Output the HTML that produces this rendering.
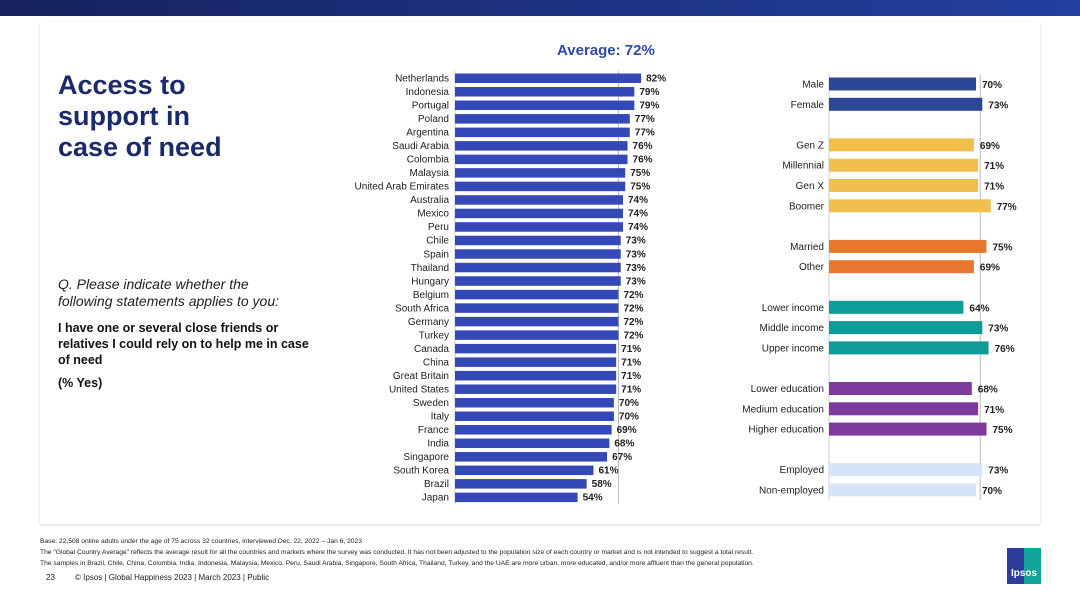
<!DOCTYPE html>
<html><head><meta charset="utf-8"><style>
body{margin:0;width:1080px;height:608px;background:#fff;font-family:"Liberation Sans",sans-serif;position:relative;overflow:hidden}
.banner{position:absolute;left:0;top:0;width:1080px;height:16px;background:linear-gradient(90deg,#16225e,#2340a0)}
.card{position:absolute;left:40px;top:22px;width:1000px;height:502px;background:#fff;box-shadow:0 1px 3px rgba(0,0,0,.15)}
.title{position:absolute;left:58px;top:70px;font-size:27px;font-weight:bold;color:#1b2a6b;line-height:31px}
.q{position:absolute;left:58px;top:276px;font-size:14px;font-style:italic;color:#222;line-height:17px}
.stmt{position:absolute;left:58px;top:320px;font-size:12.5px;font-weight:bold;color:#111;line-height:16px;width:260px}
.yes{position:absolute;left:58px;top:376px;font-size:12.5px;font-weight:bold;color:#111}
.avg{position:absolute;left:557px;top:42px;font-size:15px;font-weight:bold;color:#2e4aa6}
.foot{position:absolute;left:40px;font-size:6.7px;color:#222;white-space:nowrap}
.pg{position:absolute;top:573px;font-size:8px;color:#222}
.logo{position:absolute;left:1007px;top:548px;width:34px;height:36px;background:linear-gradient(90deg,#2e3d9a 50%,#12a39a 50%);color:#fff;font-size:10px;font-weight:bold;text-align:center;line-height:52px}
svg{position:absolute;left:0;top:0}
</style></head><body>
<div class="banner"></div>
<div class="card"></div>
<div class="title">Access to<br>support in<br>case of need</div>
<div class="q">Q. Please indicate whether the<br>following statements applies to you:</div>
<div class="stmt">I have one or several close friends or relatives I could rely on to help me in case of need</div>
<div class="yes">(% Yes)</div>
<div class="avg">Average: 72%</div>
<svg id="chart" width="1080" height="608"></svg>
<div class="foot" style="top:538px">Base: 22,508 online adults under the age of 75 across 32 countries, interviewed Dec. 22, 2022 – Jan 6, 2023</div>
<div class="foot" style="top:549px">The "Global Country Average" reflects the average result for all the countries and markets where the survey was conducted. It has not been adjusted to the population size of each country or market and is not intended to suggest a total result.</div>
<div class="foot" style="top:560px">The samples in Brazil, Chile, China, Colombia, India, Indonesia, Malaysia, Mexico, Peru, Saudi Arabia, Singapore, South Africa, Thailand, Turkey, and the UAE are more urban, more educated, and/or more affluent than the general population.</div>
<div class="pg" style="left:46px">23</div>
<div class="pg" style="left:75px">© Ipsos | Global Happiness 2023 | March 2023 | Public</div>
<div class="logo">Ipsos</div>
<script>
const countries=["Netherlands","Indonesia","Portugal","Poland","Argentina","Saudi Arabia","Colombia","Malaysia","United Arab Emirates","Australia","Mexico","Peru","Chile","Spain","Thailand","Hungary","Belgium","South Africa","Germany","Turkey","Canada","China","Great Britain","United States","Sweden","Italy","France","India","Singapore","South Korea","Brazil","Japan"];
const countryValues=[82,79,79,77,77,76,76,75,75,74,74,74,73,73,73,73,72,72,72,72,71,71,71,71,70,70,69,68,67,61,58,54];
const groups=["Male","Female","Gen Z","Millennial","Gen X","Boomer","Married","Other","Lower income","Middle income","Upper income","Lower education","Medium education","Higher education","Employed","Non-employed"];
const groupValues=[70,73,69,71,71,77,75,69,64,73,76,68,71,75,73,70];
const groupSlots=[0,1,3,4,5,6,8,9,11,12,13,15,16,17,19,20];
const groupColors=["#2e4696","#2e4696","#f0bf4c","#f0bf4c","#f0bf4c","#f0bf4c","#e8772e","#e8772e","#0e9c98","#0e9c98","#0e9c98","#7d3a9c","#7d3a9c","#7d3a9c","#d6e4f8","#d6e4f8"];
const average=72;
const svg=document.getElementById('chart');const NS='http://www.w3.org/2000/svg';
function mk(t,a,txt){const e=document.createElementNS(NS,t);for(const k in a)e.setAttribute(k,a[k]);if(txt!==undefined)e.textContent=txt;svg.appendChild(e);return e;}
const lx=v=>455+v*2.27, ly=i=>78+i*13.52;
let ax=mk('line',{x1:455,x2:455,y1:71,y2:504,stroke:'#ccc'});

let al=mk('line',{x1:lx(average),x2:lx(average),y1:71,y2:504,stroke:'#bbb'});

countries.forEach((c,i)=>{
 let r=mk('rect',{x:455,y:ly(i)-4.5,width:lx(countryValues[i])-455,height:9.5,fill:'#3448b8'});
 
 let t=mk('text',{x:449,y:ly(i)+3.5,'text-anchor':'end','font-size':10,fill:'#222'},c);
 
 let v=mk('text',{x:lx(countryValues[i])+5,y:ly(i)+3.5,'font-size':10,'font-weight':'bold',fill:'#222'},countryValues[i]+'%');
 
});
const rx=v=>829+v*2.1, ry=s=>84+s*20.3;
let ax2=mk('line',{x1:829,x2:829,y1:74,y2:500,stroke:'#ccc'});

let al2=mk('line',{x1:rx(average),x2:rx(average),y1:74,y2:500,stroke:'#bbb'});

groups.forEach((g,i)=>{
 const y=ry(groupSlots[i]);
 let r=mk('rect',{x:829,y:y-6.5,width:rx(groupValues[i])-829,height:13,fill:groupColors[i]});
 
 let t=mk('text',{x:824,y:y+3.5,'text-anchor':'end','font-size':10,fill:'#222'},g);
 
 let v=mk('text',{x:rx(groupValues[i])+6,y:y+4,'font-size':10,'font-weight':'bold',fill:'#222'},groupValues[i]+'%');
 
});
</script>
</body></html>
